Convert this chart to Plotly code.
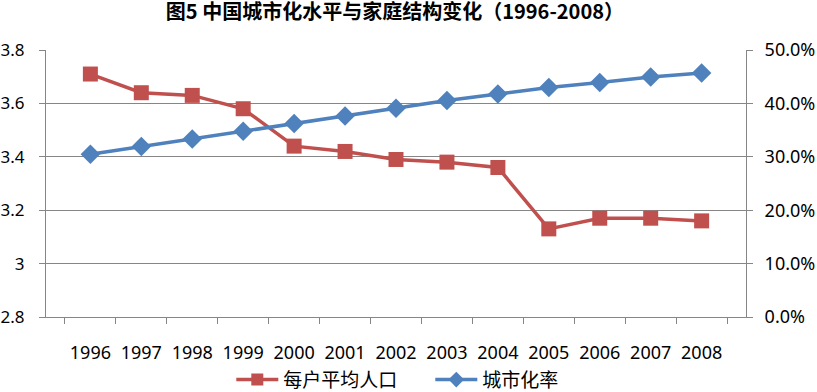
import plotly.graph_objects as go

years = ["1996", "1997", "1998", "1999", "2000", "2001", "2002", "2003", "2004", "2005", "2006", "2007", "2008"]
household_size = [3.71, 3.64, 3.63, 3.58, 3.44, 3.42, 3.39, 3.38, 3.36, 3.13, 3.17, 3.17, 3.16]
urban_rate = [0.3048, 0.3191, 0.3335, 0.3478, 0.3622, 0.3766, 0.3909, 0.4053, 0.4176, 0.4299, 0.4390, 0.4494, 0.4568]

title_text = "图5 中国城市化水平与家庭结构变化（1996-2008）"
name_red = "每户平均人口"
name_blue = "城市化率"

RED = "#C0504D"
BLUE = "#4F81BD"
GRID = "#868686"
FONT = "Noto Sans, Noto Sans CJK SC, sans-serif"

fig = go.Figure()
fig.add_trace(go.Scatter(
    x=years, y=household_size, name=name_red, mode="lines+markers",
    line=dict(color=RED, width=3.5),
    marker=dict(symbol="square", size=15, color=RED),
    yaxis="y", showlegend=False,
))
fig.add_trace(go.Scatter(
    x=years, y=urban_rate, name=name_blue, mode="lines+markers",
    line=dict(color=BLUE, width=3.5),
    marker=dict(symbol="diamond", size=15, color=BLUE),
    yaxis="y2", showlegend=False,
))
# legend entries (smaller markers as in the reference legend)
fig.add_trace(go.Scatter(
    x=[None], y=[None], name=name_red, mode="lines+markers",
    line=dict(color=RED, width=3.5),
    marker=dict(symbol="square", size=12, color=RED), yaxis="y",
))
fig.add_trace(go.Scatter(
    x=[None], y=[None], name=name_blue, mode="lines+markers",
    line=dict(color=BLUE, width=3.5),
    marker=dict(symbol="diamond", size=12, color=BLUE), yaxis="y2",
))

fig.update_layout(
    width=817, height=392,
    paper_bgcolor="white", plot_bgcolor="white",
    margin=dict(l=46, r=71, t=50, b=75, autoexpand=False),
    font=dict(family=FONT, size=18, color="#000000"),
    title=dict(text="<b>" + title_text + "</b>", x=0.203, xanchor="left",
               y=0.969, yanchor="middle",
               font=dict(family="Noto Sans CJK SC, sans-serif", size=20, color="#000")),
    showlegend=True,
    legend=dict(orientation="h", x=0.549, xanchor="center", y=-0.235, yanchor="middle",
                font=dict(family="Noto Sans CJK SC, sans-serif", size=19),
                traceorder="normal", itemwidth=42, entrywidth=142),
    xaxis=dict(
        type="category", showgrid=False, showline=True, linecolor=GRID, linewidth=1,
        ticks="outside", ticklen=6, tickcolor=GRID, tickson="boundaries",
        ticklabelstandoff=19, zeroline=False, mirror=False, automargin=False,
    ),
    yaxis=dict(
        range=[2.8, 3.8], dtick=0.2, tick0=2.8, showgrid=True, gridcolor=GRID, gridwidth=1,
        showline=True, linecolor=GRID, linewidth=1, ticks="outside", ticklen=6,
        tickcolor=GRID, zeroline=False, ticklabelstandoff=11, automargin=False,
        tickfont=dict(size=17),
    ),
    yaxis2=dict(
        range=[0, 0.5], dtick=0.1, tickformat=".1%", overlaying="y", side="right",
        showgrid=False, showline=True, linecolor=GRID, linewidth=1, ticks="outside",
        ticklen=6, tickcolor=GRID, zeroline=False, ticklabelstandoff=8, automargin=False,
    ),
)

fig.write_html("out.html", config={"displayModeBar": False},
               post_script="document.body.style.margin='0';")
